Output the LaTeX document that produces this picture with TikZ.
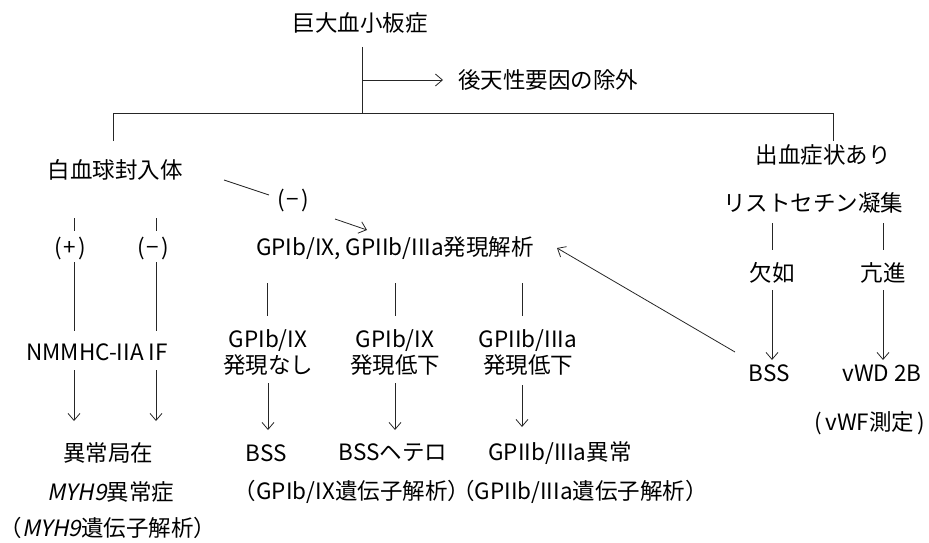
\documentclass[tikz,border=0pt]{standalone}
\usepackage{fontspec}
\setmainfont{Noto Sans CJK JP}
\newfontfamily\jpit[FakeSlant=0.2]{Noto Sans CJK JP}
\usetikzlibrary{arrows.meta}
\tikzset{
  lbl/.style={inner sep=0pt, font=\fontsize{22.5}{26}\selectfont, align=center, text=black},
  ln/.style={draw=black!85, line width=0.8pt},
  arr/.style={ln, -{Straight Barb[length=7pt,width=12pt]}}
}
\newcommand{\sgn}[1]{(\kern2pt#1\kern2pt)}
\begin{document}
\begin{tikzpicture}[x=1pt,y=-1pt]
\useasboundingbox (0,0) rectangle (929,543);
% nodes
\node[lbl] (top) at (360,23) {巨大血小板症};
\node[lbl] (exc) at (548,80) {後天性要因の除外};
\node[lbl] (wbc) at (115,170) {白血球封入体};
\node[lbl] (bleed) at (823,155) {出血症状あり};
\node[lbl] (rist) at (813,203) {リストセチン凝集};
\node[lbl] (minA) at (293,201) {\sgn{−}};
\node[lbl] (plus) at (70,249) {\sgn{+}};
\node[lbl] (minB) at (153,249) {\sgn{−}};
\node[lbl] (gp) at (395,248) {GPIb/IX, GPIIb/IIIa発現解析};
\node[lbl] (lack) at (772,273) {欠如};
\node[lbl] (incr) at (883,273) {亢進};
\node[lbl] (nmm) at (97,352) {NMMHC-IIA IF};
\node[lbl] (ga) at (268,353) {GPIb/IX\\発現なし};
\node[lbl] (gb) at (395,353) {GPIb/IX\\発現低下};
\node[lbl] (gc) at (528,353) {GPIIb/IIIa\\発現低下};
\node[lbl] (bssr) at (769,373) {BSS};
\node[lbl] (vwd) at (882,373) {vWD 2B};
\node[lbl] (abn) at (108,453) {異常局在};
\node[lbl] (bss) at (266,453) {BSS};
\node[lbl] (het) at (393,453) {BSSヘテロ};
\node[lbl] (gcabn) at (560,453) {GPIIb/IIIa異常};
\node[lbl, anchor=east] (vwf) at (925,423) {(\kern3pt vWF測定\kern3pt)};
\node[lbl] (myh) at (111,492) {{\jpit MYH9}異常症};
\node[lbl] (gen1) at (352,492) {（GPIb/IX遺伝子解析）};
\node[lbl] (gen2) at (580,492) {（GPIIb/IIIa遺伝子解析）};
\node[lbl] (myhgen) at (108,528) {（{\jpit MYH9}遺伝子解析）};
% coordinates
\coordinate (t0) at (362,47);
\coordinate (t1) at (362,113);
\coordinate (ta) at (362,80);
\coordinate (tb) at (443,80);
\coordinate (hl) at (113,113);
\coordinate (hr) at (833,113);
\coordinate (hl2) at (113,141);
\coordinate (hr2) at (833,141);
\coordinate (d0) at (224,180);
\coordinate (d1) at (269,195);
\coordinate (d2) at (335,219);
\coordinate (d3) at (367,230);
\coordinate (p0) at (74,218);  \coordinate (p1) at (74,231);
\coordinate (m0) at (156,218); \coordinate (m1) at (156,231);
\coordinate (p2) at (74,262);  \coordinate (p3) at (74,331);
\coordinate (m2) at (156,262); \coordinate (m3) at (156,331);
\coordinate (p4) at (74,370);  \coordinate (p5) at (74,421);
\coordinate (m4) at (156,370); \coordinate (m5) at (156,421);
\coordinate (a0) at (267,283); \coordinate (a1) at (267,316);
\coordinate (b0) at (395,283); \coordinate (b1) at (395,316);
\coordinate (c0) at (522,283); \coordinate (c1) at (522,316);
\coordinate (a2) at (268,383); \coordinate (a3) at (268,430);
\coordinate (b2) at (395,383); \coordinate (b3) at (395,430);
\coordinate (c2) at (522,385); \coordinate (c3) at (522,427);
\coordinate (r0) at (772,223); \coordinate (r1) at (772,250);
\coordinate (s0) at (883,223); \coordinate (s1) at (883,250);
\coordinate (r2) at (772,290); \coordinate (r3) at (772,360);
\coordinate (s2) at (883,290); \coordinate (s3) at (883,360);
\coordinate (x0) at (735,352); \coordinate (x1) at (557,248);
% connectors
\draw[ln] (t0) -- (t1);
\draw[arr] (ta) -- (tb);
\draw[ln] (hl2) -- (hl) -- (hr) -- (hr2);
\draw[ln] (d0) -- (d1);
\draw[arr] (d2) -- (d3);
\draw[ln] (p0) -- (p1);
\draw[ln] (m0) -- (m1);
\draw[ln] (p2) -- (p3);
\draw[ln] (m2) -- (m3);
\draw[arr] (p4) -- (p5);
\draw[arr] (m4) -- (m5);
\draw[ln] (a0) -- (a1);
\draw[ln] (b0) -- (b1);
\draw[ln] (c0) -- (c1);
\draw[arr] (a2) -- (a3);
\draw[arr] (b2) -- (b3);
\draw[arr] (c2) -- (c3);
\draw[ln] (r0) -- (r1);
\draw[ln] (s0) -- (s1);
\draw[arr] (r2) -- (r3);
\draw[arr] (s2) -- (s3);
\draw[arr] (x0) -- (x1);
\end{tikzpicture}
\end{document}
